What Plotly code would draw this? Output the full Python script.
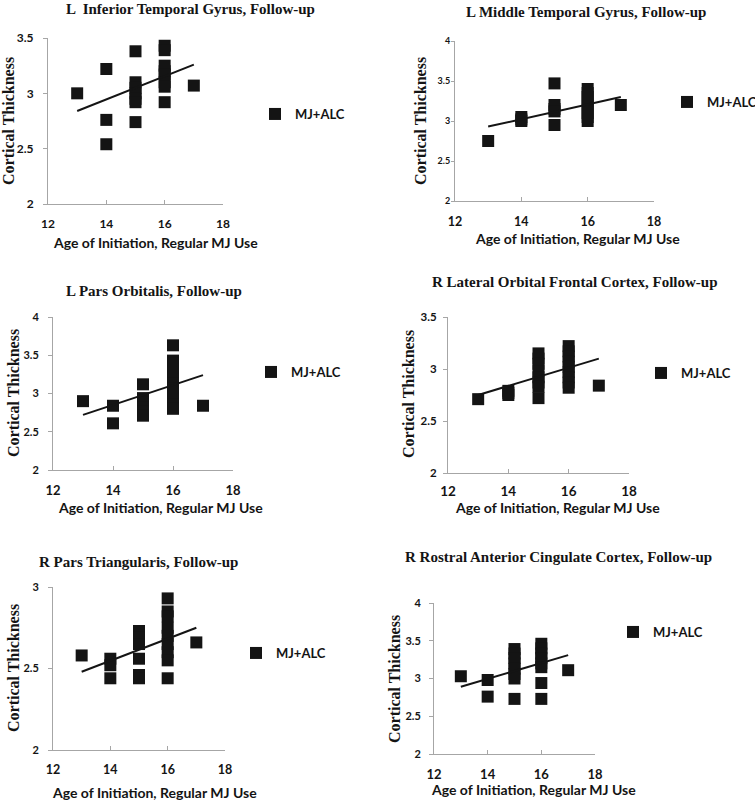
import plotly.graph_objects as go

W, H = 755, 800

# ---------------- data ----------------
titles = [
    "L  Inferior Temporal Gyrus, Follow-up",
    "L Middle Temporal Gyrus, Follow-up",
    "L Pars Orbitalis, Follow-up",
    "R Lateral Orbital Frontal Cortex, Follow-up",
    "R Pars Triangularis, Follow-up",
    "R Rostral Anterior Cingulate Cortex, Follow-up",
]
x_title = "Age of Initiation, Regular MJ Use"
y_title = "Cortical Thickness"
series_name = "MJ+ALC"
x_ticks = [12, 14, 16, 18]

itg_age = [13, 14, 14, 14, 15, 15, 15, 15, 15, 15, 15, 16, 16, 16, 16, 16, 16, 16, 16, 17]
itg_thk = [3.00, 3.22, 2.76, 2.54, 3.38, 3.10, 3.05, 3.00, 2.95, 2.92, 2.74,
           3.43, 3.39, 3.25, 3.20, 3.17, 3.10, 3.06, 2.92, 3.07]
itg_fit = [2.84, 3.26]

mtg_age = [13, 14, 14, 14, 15, 15, 15, 15, 15, 16, 16, 16, 16, 16, 16, 16, 16, 16, 17]
mtg_thk = [2.75, 3.05, 3.02, 3.00, 3.47, 3.20, 3.15, 3.12, 2.95,
           3.40, 3.35, 3.30, 3.25, 3.20, 3.15, 3.10, 3.05, 3.00, 3.20]
mtg_fit = [2.93, 3.30]

po_age = [13, 14, 14, 15, 15, 15, 15, 15, 15, 16, 16, 16, 16, 16, 16, 16, 16, 16, 16, 16, 17]
po_thk = [2.90, 2.84, 2.61, 3.12, 2.94, 2.88, 2.82, 2.76, 2.71,
          3.63, 3.43, 3.39, 3.27, 3.20, 3.13, 3.06, 3.00, 2.93, 2.86, 2.80, 2.84]
po_fit = [2.72, 3.24]

lofc_age = [13, 14, 14, 14, 15, 15, 15, 15, 15, 15, 15, 15,
            16, 16, 16, 16, 16, 16, 16, 16, 16, 17]
lofc_thk = [2.71, 2.79, 2.77, 2.75, 2.72, 3.15, 3.10, 3.05, 2.98, 2.92, 2.87, 2.83,
            3.22, 3.17, 3.12, 3.07, 3.02, 2.97, 2.92, 2.87, 2.82, 2.84]
lofc_fit = [2.75, 3.10]

pt_age = [13, 14, 14, 14, 15, 15, 15, 15, 15, 15,
          16, 16, 16, 16, 16, 16, 16, 16, 16, 17]
pt_thk = [2.58, 2.56, 2.52, 2.44, 2.73, 2.69, 2.65, 2.56, 2.46, 2.44,
          2.93, 2.85, 2.82, 2.75, 2.70, 2.65, 2.60, 2.55, 2.44, 2.66]
pt_fit = [2.48, 2.75]

racc_age = [13, 14, 14, 15, 15, 15, 15, 15, 15, 15, 15,
            16, 16, 16, 16, 16, 16, 16, 16, 17]
racc_thk = [3.03, 2.98, 2.76, 3.39, 3.33, 3.27, 3.20, 3.13, 3.06, 3.00, 2.73,
            3.46, 3.40, 3.33, 3.27, 3.20, 3.15, 2.94, 2.73, 3.11]
racc_fit = [2.89, 3.31]

fit_age = [13, 17]

y_ranges = [[2, 3.5], [2, 4], [2, 4], [2, 3.5], [2, 3], [2, 4]]

panels_data = [
    (itg_age, itg_thk, itg_fit),
    (mtg_age, mtg_thk, mtg_fit),
    (po_age, po_thk, po_fit),
    (lofc_age, lofc_thk, lofc_fit),
    (pt_age, pt_thk, pt_fit),
    (racc_age, racc_thk, racc_fit),
]

# ---------------- layout geometry (pixels) & per-panel styling ----------------
# plot area: x0, x1, ytop, ybottom
boxes = [
    (48, 223, 38, 204),
    (455, 654, 41, 201),
    (53, 233, 317, 470),
    (448, 629, 317, 473),
    (53, 225, 587, 750),
    (434, 595, 603, 754),
]
title_pos = [(190, 9), (586, 12), (154, 291), (575, 282), (138, 562), (558, 557)]
xtitle_pos = [(155, 243), (577, 238), (160, 507), (557, 507), (154, 792), (533, 789)]
ytitle_pos = [(8, 121), (420, 121), (13, 393), (409, 394), (13, 668), (394, 679)]
legend_pos = [(286, 114), (698, 102), (282, 372), (672, 373), (267, 653), (644, 632)]
ytick_size = [12, 9, 11, 11.5, 11, 11]
ytick_len = [4, 3, 4, 4, 4, 4]
ytick_pad = [7, -1, 7, 4, 7, 6]
xtick_size = [12, 12.5, 13, 13.5, 12.5, 13]
xtick_pad = [9, 9, 8, 6, 8, 8]


def px(x):
    return x / W


def py(y):
    return 1 - y / H


fig = go.Figure()
annotations = []
layout = dict(
    width=W, height=H,
    margin=dict(l=0, r=0, t=0, b=0, autoexpand=False),
    paper_bgcolor="white", plot_bgcolor="white",
    showlegend=True,
)

serif = "Liberation Serif"
sans = "Lato"
axis_gray = "#a6a6a6"
ink = "#141414"

for i, ((ages, thk, fit), box) in enumerate(zip(panels_data, boxes)):
    n = i + 1
    xa = "x" if n == 1 else f"x{n}"
    ya = "y" if n == 1 else f"y{n}"
    lg = "legend" if n == 1 else f"legend{n}"
    fig.add_trace(go.Scatter(
        x=ages, y=thk, mode="markers", name=series_name,
        marker=dict(symbol="square", size=12, color=ink),
        xaxis=xa, yaxis=ya, legend=lg, showlegend=True,
    ))
    fig.add_trace(go.Scatter(
        x=fit_age, y=fit, mode="lines", line=dict(color=ink, width=2),
        xaxis=xa, yaxis=ya, showlegend=False, hoverinfo="skip",
    ))
    x0, x1, yt, yb = box
    axis_common = dict(
        showgrid=False, zeroline=False, showline=True, linecolor=axis_gray,
        linewidth=1, tickcolor=axis_gray, automargin=False,
    )
    layout["xaxis" if n == 1 else f"xaxis{n}"] = dict(
        axis_common, domain=[px(x0), px(x1)], range=[12, 18],
        tickvals=x_ticks, anchor=ya, ticks="inside", ticklen=4,
        ticklabelstandoff=xtick_pad[i],
        tickfont=dict(family=sans, size=xtick_size[i], color=ink, weight="bold"),
    )
    layout["yaxis" if n == 1 else f"yaxis{n}"] = dict(
        axis_common, domain=[py(yb), py(yt)], range=y_ranges[i],
        dtick=0.5, tick0=2, anchor=xa, ticks="outside", ticklen=ytick_len[i],
        ticklabelstandoff=ytick_pad[i],
        tickfont=dict(family=sans, size=ytick_size[i], color=ink, weight="bold"),
    )
    lx, ly = legend_pos[i]
    layout[lg] = dict(
        x=px(lx - 31), y=py(ly), xanchor="left", yanchor="middle",
        bgcolor="rgba(0,0,0,0)", borderwidth=0,
        font=dict(family=sans, size=13, color=ink, weight="bold"),
        itemwidth=30,
    )
    tx, ty = title_pos[i]
    annotations.append(dict(
        text=titles[i], x=px(tx), y=py(ty), xref="paper", yref="paper",
        xanchor="center", yanchor="middle", showarrow=False,
        font=dict(family=serif, size=15, color=ink, weight="bold"),
    ))
    tx, ty = xtitle_pos[i]
    annotations.append(dict(
        text=x_title, x=px(tx), y=py(ty), xref="paper", yref="paper",
        xanchor="center", yanchor="middle", showarrow=False,
        font=dict(family=sans, size=14, color=ink, weight="bold"),
    ))
    tx, ty = ytitle_pos[i]
    annotations.append(dict(
        text=y_title, x=px(tx), y=py(ty), xref="paper", yref="paper",
        xanchor="center", yanchor="middle", showarrow=False, textangle=-90,
        font=dict(family=serif, size=16, color=ink, weight="bold"),
    ))

layout["annotations"] = annotations
fig.update_layout(**layout)
fig.write_html(
    "out.html",
    config={"displayModeBar": False},
    post_script="document.body.style.margin='0';document.body.style.overflow='hidden';",
)
